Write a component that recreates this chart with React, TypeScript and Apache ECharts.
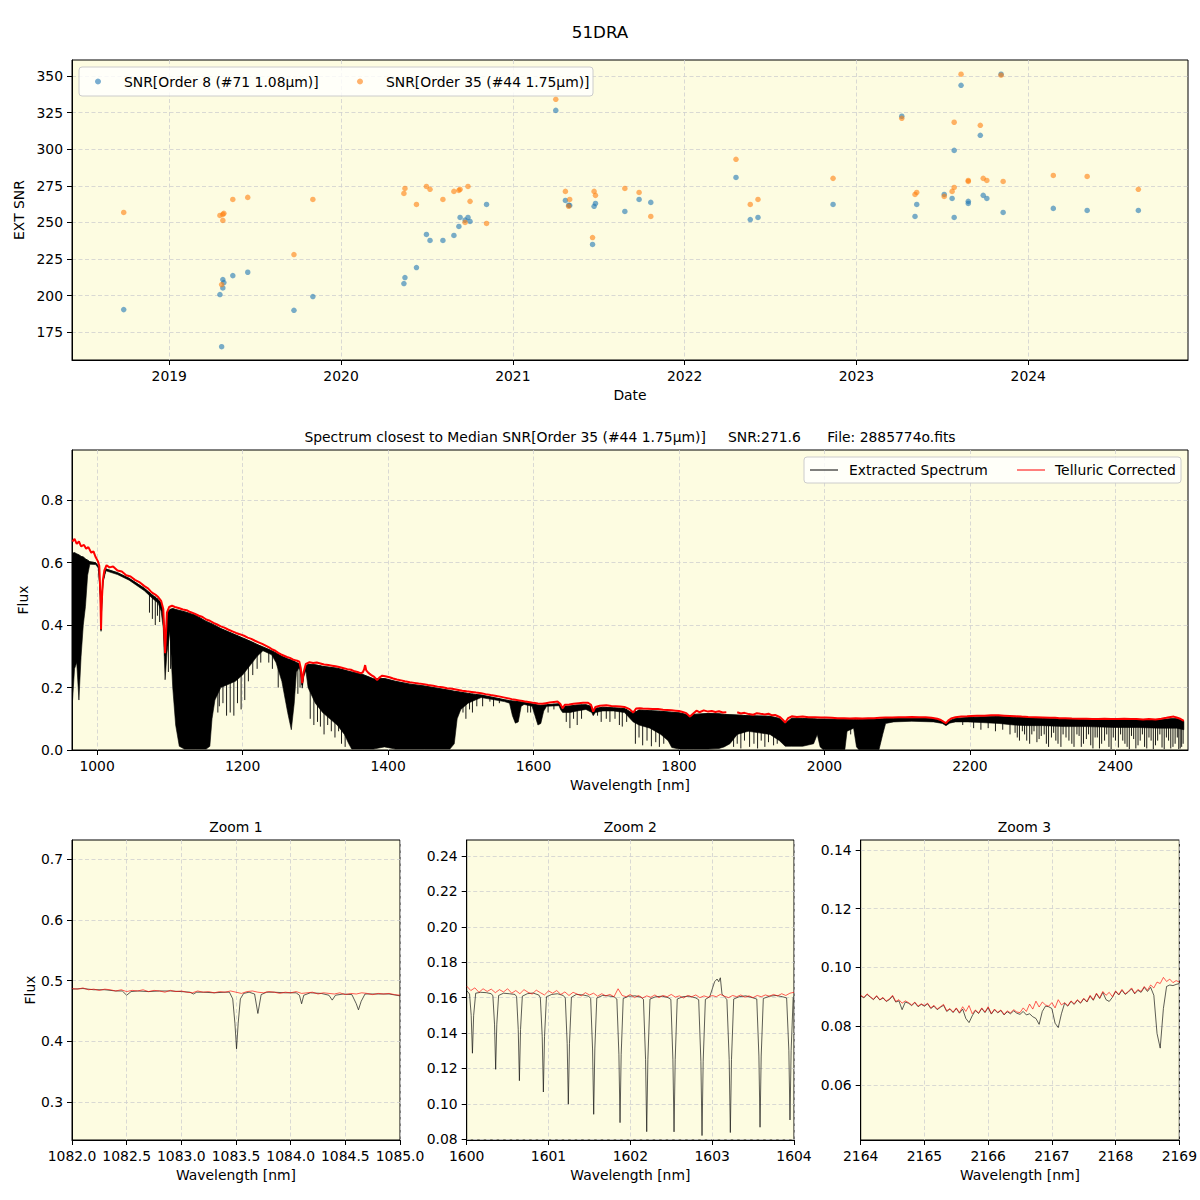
import React, { useEffect, useRef } from "react";
import * as echarts from "echarts";

const FONT = "DejaVu Sans";
const BG = "#fdfce1";

// ---------------- Top panel: SNR vs date (decimal years) ----------------
const obsDates = [
  2018.735, 2019.295, 2019.305, 2019.312, 2019.312, 2019.318, 2019.37, 2019.457, 2019.726, 2019.836,
  2020.366, 2020.372, 2020.439, 2020.497, 2020.518, 2020.593, 2020.657, 2020.686, 2020.693, 2020.722,
  2020.739, 2020.751, 2020.847, 2021.25, 2021.306, 2021.325, 2021.331, 2021.464, 2021.473, 2021.481,
  2021.652, 2021.735, 2021.803, 2022.299, 2022.382, 2022.427, 2022.864, 2023.264, 2023.341, 2023.351,
  2023.511, 2023.557, 2023.569, 2023.569, 2023.609, 2023.651, 2023.651, 2023.721, 2023.738, 2023.759,
  2023.842, 2023.854, 2024.146, 2024.343, 2024.641,
];
const snrOrder8 = [
  190.5, 200.8, 165.2, 205.3, 211.0, 209.0, 213.7, 216.0, 190.0, 199.4,
  208.3, 212.4, 219.2, 241.8, 237.7, 237.7, 241.1, 247.3, 253.4, 251.6,
  253.4, 250.7, 262.3, 326.5, 265.0, 261.8, 261.6, 235.0, 261.0, 263.0,
  257.5, 265.7, 263.7, 280.7, 252.0, 253.4, 262.3, 322.5, 254.1, 262.3,
  269.1, 266.4, 253.4, 299.2, 343.6, 264.4, 263.0, 309.5, 268.5, 266.4,
  351.2, 256.8, 259.6, 258.2, 258.2,
];
const snrOrder35 = [
  256.8, 254.8, 207.6, 251.4, 255.5, 256.2, 265.7, 267.1, 228.1, 265.7,
  269.8, 273.2, 262.3, 274.6, 272.6, 265.7, 271.2, 271.9, 272.6, 250.0,
  274.6, 264.4, 249.3, 334.1, 271.2, 261.0, 265.7, 239.7, 271.2, 268.5,
  273.2, 270.5, 254.1, 293.1, 262.3, 265.7, 280.1, 321.1, 269.1, 270.5,
  267.8, 271.2, 273.9, 318.4, 351.2, 278.7, 278.0, 316.3, 280.1, 278.7,
  350.5, 278.0, 282.1, 281.4, 272.6,
];
const yearTicks = [2019, 2020, 2021, 2022, 2023, 2024];
const snrTicks = [175, 200, 225, 250, 275, 300, 325, 350];

// ---------------- Middle panel: full spectrum ----------------
// [wavelength nm, flux] telluric corrected (red)
const telluricSpectrum: [number, number | null][] = [
  [966, 0.668], [969, 0.676], [972, 0.66], [975, 0.668], [978, 0.652], [982, 0.657], [985, 0.645], [988, 0.65],
  [992, 0.632], [995, 0.636], [998, 0.618], [1001, 0.605], [1003, 0.59], [1004.5, 0.5], [1005.4, 0.386], [1006.3, 0.47],
  [1008, 0.545], [1010, 0.575], [1013, 0.592], [1017, 0.585], [1022, 0.588], [1028, 0.575], [1034, 0.572], [1040, 0.56],
  [1046, 0.556], [1052, 0.545], [1058, 0.538], [1065, 0.525], [1070, 0.518], [1075, 0.505], [1080, 0.498], [1084, 0.49],
  [1088, 0.478], [1091, 0.452], [1093.5, 0.31], [1096, 0.44], [1099, 0.458], [1103, 0.462], [1107, 0.458], [1112, 0.455],
  [1118, 0.45], [1123, 0.448], [1128, 0.442], [1134, 0.437], [1140, 0.43], [1145, 0.426], [1150, 0.418], [1155, 0.414],
  [1160, 0.407], [1165, 0.402], [1170, 0.396], [1175, 0.392], [1180, 0.386], [1186, 0.38], [1191, 0.375], [1196, 0.371],
  [1202, 0.366], [1207, 0.36], [1212, 0.356], [1217, 0.35], [1222, 0.345], [1227, 0.34], [1233, 0.333], [1237, 0.328],
  [1241, 0.322], [1245, 0.318], [1249, 0.311], [1253, 0.306], [1257, 0.302], [1261, 0.298], [1265, 0.295], [1269, 0.29],
  [1272, 0.288], [1275, 0.286], [1278, 0.283], [1280, 0.262], [1282, 0.214], [1284, 0.25], [1287, 0.276], [1292, 0.281],
  [1297, 0.279], [1302, 0.28], [1307, 0.277], [1312, 0.274], [1318, 0.272], [1323, 0.27], [1328, 0.268], [1334, 0.265],
  [1339, 0.262], [1344, 0.259], [1349, 0.257], [1354, 0.252], [1358, 0.25], [1362, 0.246], [1365, 0.248], [1367, 0.258],
  [1368.5, 0.272], [1370, 0.255], [1373, 0.247], [1377, 0.24], [1381, 0.234], [1385, 0.224], [1388, 0.232], [1392, 0.238],
  [1396, 0.236], [1402, 0.233], [1407, 0.229], [1412, 0.226], [1418, 0.223], [1423, 0.22], [1430, 0.217], [1436, 0.215],
  [1442, 0.213], [1449, 0.211], [1455, 0.208], [1462, 0.206], [1468, 0.203], [1475, 0.201], [1481, 0.198], [1488, 0.196],
  [1495, 0.193], [1502, 0.19], [1508, 0.188], [1515, 0.186], [1521, 0.184], [1528, 0.182], [1534, 0.179], [1541, 0.176],
  [1547, 0.174], [1554, 0.171], [1562, 0.167], [1570, 0.163], [1575, 0.161], [1580, 0.159], [1585, 0.157], [1589, 0.155],
  [1595, 0.153], [1600, 0.151], [1606, 0.149], [1612, 0.148], [1617, 0.15], [1622, 0.152], [1628, 0.154], [1633, 0.155],
  [1637, 0.147], [1640, 0.134], [1643, 0.145], [1649, 0.146], [1655, 0.148], [1662, 0.15], [1668, 0.151], [1675, 0.151],
  [1679, 0.145], [1682, 0.123], [1685, 0.138], [1691, 0.142], [1700, 0.143], [1707, 0.141], [1713, 0.14], [1719, 0.139],
  [1725, 0.138], [1732, 0.131], [1737, 0.12], [1741, 0.133], [1746, 0.134], [1750, 0.133], [1757, 0.132], [1764, 0.131],
  [1771, 0.131], [1778, 0.129], [1784, 0.128], [1790, 0.127], [1795, 0.126], [1800, 0.125], [1805, 0.122], [1810, 0.118],
  [1815, 0.107], [1820, 0.118], [1824, 0.126], [1828, 0.121], [1834, 0.127], [1840, 0.123], [1845, 0.125], [1850, 0.122],
  [1855, 0.124], [1860, 0.12], [1865, 0.121], [1868, null], [1874, null], [1880, 0.121], [1885, 0.117], [1890, 0.119],
  [1896, 0.115], [1902, 0.113], [1907, 0.118], [1912, 0.116], [1918, 0.114], [1923, 0.116], [1928, 0.111], [1932, 0.112],
  [1936, 0.108], [1939, 0.105], [1943, 0.096], [1946, 0.088], [1950, 0.102], [1955, 0.108], [1962, 0.106], [1970, 0.107],
  [1978, 0.105], [1987, 0.105], [1995, 0.104], [2002, 0.104], [2010, 0.103], [2018, 0.102], [2027, 0.102], [2035, 0.101],
  [2043, 0.102], [2052, 0.101], [2060, 0.102], [2068, 0.102], [2076, 0.103], [2084, 0.104], [2093, 0.104], [2102, 0.105],
  [2111, 0.105], [2120, 0.106], [2130, 0.105], [2139, 0.105], [2147, 0.103], [2155, 0.1], [2160, 0.096], [2164, 0.09],
  [2167, 0.086], [2170, 0.094], [2174, 0.101], [2180, 0.105], [2188, 0.107], [2196, 0.108], [2202, 0.109], [2210, 0.11],
  [2220, 0.11], [2229, 0.111], [2239, 0.111], [2247, 0.11], [2255, 0.109], [2263, 0.108], [2271, 0.107], [2280, 0.106],
  [2290, 0.105], [2300, 0.104], [2310, 0.103], [2317, 0.103], [2323, 0.102], [2331, 0.102], [2340, 0.101], [2350, 0.1],
  [2360, 0.1], [2368, 0.099], [2376, 0.099], [2385, 0.1], [2394, 0.099], [2403, 0.099], [2412, 0.1], [2421, 0.099],
  [2429, 0.099], [2438, 0.098], [2446, 0.099], [2455, 0.098], [2463, 0.1], [2470, 0.103], [2476, 0.106], [2480, 0.107],
  [2484, 0.104], [2488, 0.101], [2491, 0.097], [2494, 0.093],
];

// [wavelength, upper flux, lower flux] of the dense extracted spectrum (black)
const extractedBand: [number, number, number][] = [
  [966, 0.63, 0.15], [969, 0.632, 0.26], [972, 0.628, 0.28], [975, 0.625, 0.16], [978, 0.62, 0.3], [981, 0.618, 0.4],
  [984, 0.612, 0.46], [987, 0.608, 0.56], [990, 0.603, 0.595], [998, 0.6, 0.594], [1002, 0.588, 0.582], [1004.5, 0.495, 0.49],
  [1005.4, 0.384, 0.38], [1006.3, 0.465, 0.46], [1008, 0.54, 0.535], [1012, 0.58, 0.574], [1028, 0.568, 0.562], [1044, 0.55, 0.544],
  [1065, 0.518, 0.51], [1075, 0.498, 0.488], [1084, 0.482, 0.47], [1088, 0.47, 0.445], [1091, 0.443, 0.39], [1093.5, 0.302, 0.225],
  [1096, 0.432, 0.31], [1100, 0.45, 0.38], [1104, 0.453, 0.2], [1108, 0.45, 0.08], [1113, 0.447, 0.012], [1120, 0.443, 0.003],
  [1135, 0.432, 0.003], [1150, 0.412, 0.003], [1155, 0.407, 0.012], [1158, 0.404, 0.1], [1162, 0.399, 0.16], [1170, 0.389, 0.2],
  [1180, 0.379, 0.21], [1190, 0.369, 0.22], [1200, 0.359, 0.24], [1210, 0.349, 0.27], [1220, 0.338, 0.3], [1228, 0.33, 0.318],
  [1240, 0.318, 0.305], [1246, 0.311, 0.28], [1254, 0.3, 0.22], [1262, 0.292, 0.12], [1267, 0.288, 0.065], [1271, 0.284, 0.15],
  [1274, 0.28, 0.25], [1278, 0.276, 0.265], [1280, 0.255, 0.245], [1282, 0.208, 0.198], [1284, 0.244, 0.234], [1287, 0.27, 0.255],
  [1290, 0.274, 0.2], [1300, 0.273, 0.15], [1310, 0.268, 0.12], [1320, 0.265, 0.1], [1330, 0.262, 0.08], [1340, 0.256, 0.05],
  [1346, 0.252, 0.02], [1350, 0.25, 0.003], [1365, 0.242, 0.003], [1380, 0.228, 0.003], [1395, 0.229, 0.01], [1410, 0.22, 0.003],
  [1430, 0.211, 0.003], [1450, 0.205, 0.003], [1470, 0.197, 0.003], [1485, 0.191, 0.003], [1491, 0.188, 0.02], [1495, 0.187, 0.1],
  [1500, 0.185, 0.13], [1510, 0.181, 0.15], [1520, 0.178, 0.16], [1528, 0.176, 0.168], [1560, 0.161, 0.155], [1567, 0.158, 0.15],
  [1571, 0.157, 0.11], [1575, 0.156, 0.086], [1579, 0.155, 0.09], [1583, 0.154, 0.14], [1587, 0.152, 0.146], [1598, 0.148, 0.14],
  [1602, 0.146, 0.11], [1606, 0.144, 0.08], [1610, 0.143, 0.085], [1614, 0.144, 0.125], [1618, 0.145, 0.14], [1635, 0.148, 0.142],
  [1637, 0.142, 0.13], [1640, 0.129, 0.12], [1643, 0.14, 0.12], [1650, 0.141, 0.12], [1660, 0.144, 0.125], [1672, 0.145, 0.13],
  [1680, 0.139, 0.12], [1682, 0.118, 0.11], [1685, 0.133, 0.12], [1695, 0.137, 0.125], [1710, 0.135, 0.125], [1725, 0.133, 0.12],
  [1737, 0.117, 0.09], [1745, 0.128, 0.08], [1760, 0.126, 0.07], [1775, 0.124, 0.05], [1785, 0.122, 0.03], [1790, 0.121, 0.008],
  [1800, 0.119, 0.003], [1812, 0.113, 0.003], [1815, 0.104, 0.003], [1820, 0.114, 0.003], [1840, 0.117, 0.003], [1855, 0.116, 0.005],
  [1862, 0.114, 0.01], [1870, 0.113, 0.02], [1880, 0.112, 0.05], [1895, 0.11, 0.06], [1910, 0.109, 0.055], [1925, 0.108, 0.05],
  [1938, 0.101, 0.03], [1946, 0.085, 0.012], [1955, 0.102, 0.012], [1970, 0.101, 0.012], [1985, 0.1, 0.02], [1990, 0.099, 0.05],
  [1994, 0.099, 0.01], [1998, 0.099, 0.002], [2028, 0.098, 0.002], [2031, 0.098, 0.06], [2040, 0.098, 0.07], [2044, 0.098, 0.01],
  [2047, 0.098, 0.002], [2075, 0.099, 0.002], [2080, 0.1, 0.05], [2084, 0.101, 0.085], [2095, 0.101, 0.09], [2120, 0.102, 0.092],
  [2150, 0.1, 0.09], [2162, 0.092, 0.085], [2167, 0.083, 0.078], [2172, 0.094, 0.086], [2180, 0.101, 0.09], [2197, 0.104, 0.09],
  [2215, 0.106, 0.088], [2240, 0.107, 0.085], [2260, 0.105, 0.08], [2280, 0.103, 0.078], [2300, 0.101, 0.078], [2330, 0.099, 0.075],
  [2360, 0.097, 0.075], [2400, 0.096, 0.072], [2430, 0.096, 0.072], [2460, 0.096, 0.07], [2476, 0.1, 0.07], [2484, 0.1, 0.07],
  [2494, 0.092, 0.065],
];

// [wavelength, top, bottom] of individual deep telluric lines in the extracted spectrum
const extractedLines: [number, number, number][] = [
  [1072, 0.505, 0.44], [1076, 0.497, 0.42], [1080, 0.492, 0.4], [1083, 0.485, 0.43], [1086, 0.478, 0.41], [1098, 0.452, 0.25],
  [1101, 0.45, 0.26], [1166, 0.393, 0.12], [1168, 0.391, 0.14], [1173, 0.386, 0.15], [1178, 0.381, 0.11], [1183, 0.376, 0.12],
  [1188, 0.371, 0.11], [1193, 0.366, 0.15], [1198, 0.361, 0.13], [1203, 0.356, 0.16], [1208, 0.351, 0.22], [1214, 0.346, 0.24],
  [1220, 0.338, 0.26], [1225, 0.333, 0.28], [1236, 0.322, 0.28], [1241, 0.316, 0.26], [1249, 0.306, 0.2], [1276, 0.278, 0.18],
  [1279, 0.27, 0.2], [1293, 0.274, 0.1], [1298, 0.273, 0.08], [1303, 0.272, 0.09], [1307, 0.27, 0.075], [1312, 0.268, 0.05],
  [1317, 0.266, 0.08], [1322, 0.264, 0.06], [1327, 0.262, 0.04], [1332, 0.26, 0.06], [1336, 0.258, 0.02], [1341, 0.255, 0.01],
  [1503, 0.185, 0.12], [1507, 0.184, 0.1], [1512, 0.182, 0.13], [1516, 0.18, 0.12], [1522, 0.178, 0.14], [1530, 0.175, 0.14],
  [1540, 0.17, 0.155], [1545, 0.168, 0.14], [1553, 0.165, 0.15], [1592, 0.15, 0.12], [1596, 0.149, 0.12], [1620, 0.146, 0.12],
  [1628, 0.148, 0.13], [1645, 0.141, 0.09], [1650, 0.141, 0.07], [1655, 0.142, 0.1], [1660, 0.144, 0.08], [1666, 0.145, 0.1],
  [1688, 0.136, 0.11], [1693, 0.137, 0.09], [1700, 0.137, 0.1], [1705, 0.136, 0.09], [1712, 0.135, 0.1], [1718, 0.134, 0.08],
  [1722, 0.134, 0.075], [1728, 0.132, 0.09], [1740, 0.127, 0.02], [1745, 0.128, 0.04], [1750, 0.127, 0.015], [1756, 0.127, 0.03],
  [1762, 0.126, 0.012], [1768, 0.125, 0.025], [1773, 0.124, 0.01], [1779, 0.123, 0.02], [1875, 0.112, 0.01], [1880, 0.112, 0.02],
  [1885, 0.111, 0.005], [1890, 0.111, 0.03], [1897, 0.11, 0.01], [1903, 0.11, 0.02], [1908, 0.109, 0.005], [1913, 0.109, 0.03],
  [1918, 0.108, 0.01], [1923, 0.108, 0.025], [1930, 0.105, 0.015], [1935, 0.103, 0.02], [2036, 0.098, 0.05], [2190, 0.102, 0.08],
  [2205, 0.105, 0.07], [2215, 0.106, 0.065], [2225, 0.106, 0.07], [2235, 0.107, 0.06], [2245, 0.106, 0.065], [2255, 0.105, 0.05],
  [2262, 0.105, 0.055], [2265, 0.104, 0.04], [2268, 0.104, 0.03], [2272, 0.104, 0.06], [2275, 0.104, 0.05], [2278, 0.103, 0.03],
  [2282, 0.103, 0.02], [2285, 0.102, 0.05], [2288, 0.102, 0.06], [2292, 0.102, 0.025], [2295, 0.101, 0.035], [2298, 0.101, 0.045],
  [2302, 0.101, 0.05], [2305, 0.1, 0.02], [2308, 0.1, 0.01], [2312, 0.1, 0.04], [2315, 0.1, 0.055], [2318, 0.1, 0.03],
  [2321, 0.099, 0.02], [2325, 0.099, 0.01], [2328, 0.099, 0.05], [2332, 0.099, 0.04], [2336, 0.098, 0.03], [2340, 0.098, 0.02],
  [2343, 0.098, 0.01], [2347, 0.098, 0.05], [2350, 0.097, 0.045], [2353, 0.097, 0.01], [2356, 0.097, 0.02], [2360, 0.097, 0.035],
  [2363, 0.097, 0.05], [2366, 0.097, 0.015], [2369, 0.097, 0.005], [2372, 0.097, 0.04], [2375, 0.096, 0.04], [2378, 0.096, 0.005],
  [2381, 0.096, 0.02], [2385, 0.096, 0.03], [2388, 0.096, 0.05], [2391, 0.096, 0.01], [2394, 0.096, 0.003], [2397, 0.096, 0.04],
  [2400, 0.096, 0.03], [2404, 0.096, 0.008], [2407, 0.096, 0.05], [2410, 0.096, 0.03], [2413, 0.096, 0.02], [2416, 0.096, 0.01],
  [2419, 0.096, 0.003], [2422, 0.096, 0.045], [2425, 0.096, 0.035], [2428, 0.096, 0.005], [2431, 0.096, 0.015], [2434, 0.096, 0.03],
  [2437, 0.096, 0.05], [2440, 0.096, 0.01], [2443, 0.096, 0.005], [2446, 0.096, 0.04], [2449, 0.096, 0.03], [2452, 0.096, 0.003],
  [2455, 0.096, 0.015], [2458, 0.096, 0.03], [2461, 0.097, 0.05], [2464, 0.097, 0.008], [2467, 0.097, 0.003], [2470, 0.098, 0.04],
  [2473, 0.099, 0.03], [2476, 0.1, 0.005], [2479, 0.1, 0.01], [2482, 0.1, 0.02], [2485, 0.1, 0.04], [2487, 0.1, 0.003],
  [2489, 0.099, 0.005], [2491, 0.098, 0.01], [2493, 0.095, 0.02],
];
const waveTicks = [1000, 1200, 1400, 1600, 1800, 2000, 2200, 2400];
const fluxTicks = [0, 0.2, 0.4, 0.6, 0.8];

// ---------------- Zoom 1 (1082-1085 nm) ----------------
const zoom1Telluric: [number, number][] = [
  [1082.0, 0.487], [1082.05, 0.486], [1082.1, 0.488], [1082.15, 0.485], [1082.2, 0.486], [1082.25, 0.484], [1082.3, 0.486],
  [1082.35, 0.485], [1082.4, 0.483], [1082.45, 0.485], [1082.5, 0.482], [1082.55, 0.484], [1082.6, 0.483], [1082.65, 0.485],
  [1082.7, 0.482], [1082.75, 0.484], [1082.8, 0.483], [1082.85, 0.481], [1082.9, 0.484], [1082.95, 0.482], [1083.0, 0.483],
  [1083.05, 0.481], [1083.1, 0.48], [1083.15, 0.483], [1083.2, 0.481], [1083.25, 0.482], [1083.3, 0.48], [1083.35, 0.482],
  [1083.4, 0.481], [1083.45, 0.483], [1083.5, 0.481], [1083.55, 0.479], [1083.6, 0.482], [1083.65, 0.483], [1083.7, 0.481],
  [1083.75, 0.48], [1083.8, 0.482], [1083.85, 0.481], [1083.9, 0.479], [1083.95, 0.481], [1084.0, 0.48], [1084.05, 0.482],
  [1084.1, 0.479], [1084.15, 0.48], [1084.2, 0.481], [1084.25, 0.478], [1084.3, 0.48], [1084.35, 0.479], [1084.4, 0.478],
  [1084.45, 0.48], [1084.5, 0.477], [1084.55, 0.479], [1084.6, 0.478], [1084.65, 0.48], [1084.7, 0.479], [1084.75, 0.477],
  [1084.8, 0.479], [1084.85, 0.478], [1084.9, 0.479], [1084.95, 0.477], [1085.0, 0.476],
];
const zoom1Extracted: [number, number][] = [
  [1082.0, 0.486], [1082.1, 0.487], [1082.2, 0.485], [1082.3, 0.485], [1082.4, 0.483], [1082.46, 0.483], [1082.5, 0.476],
  [1082.54, 0.482], [1082.6, 0.483], [1082.7, 0.482], [1082.8, 0.483], [1082.9, 0.483], [1083.0, 0.482], [1083.08, 0.481],
  [1083.11, 0.478], [1083.14, 0.481], [1083.2, 0.481], [1083.3, 0.48], [1083.4, 0.481], [1083.44, 0.481], [1083.47, 0.47],
  [1083.49, 0.43], [1083.505, 0.388], [1083.52, 0.43], [1083.54, 0.47], [1083.57, 0.479], [1083.62, 0.481], [1083.67, 0.478],
  [1083.7, 0.446], [1083.73, 0.477], [1083.78, 0.481], [1083.85, 0.481], [1083.95, 0.48], [1084.05, 0.48], [1084.08, 0.476],
  [1084.1, 0.462], [1084.12, 0.476], [1084.18, 0.48], [1084.28, 0.479], [1084.35, 0.476], [1084.38, 0.468], [1084.41, 0.476],
  [1084.48, 0.478], [1084.56, 0.477], [1084.6, 0.462], [1084.62, 0.452], [1084.645, 0.466], [1084.68, 0.478], [1084.8, 0.478],
  [1084.9, 0.478], [1085.0, 0.475],
];
const zoom1XTicks = [1082.0, 1082.5, 1083.0, 1083.5, 1084.0, 1084.5, 1085.0];
const zoom1YTicks = [0.3, 0.4, 0.5, 0.6, 0.7];

// ---------------- Zoom 2 (1600-1604 nm) ----------------
const zoom2Telluric: [number, number][] = [
  [1600.0, 0.1665], [1600.05, 0.164], [1600.1, 0.1655], [1600.15, 0.163], [1600.2, 0.165], [1600.25, 0.1635], [1600.3, 0.1648],
  [1600.35, 0.1628], [1600.4, 0.1645], [1600.45, 0.1632], [1600.5, 0.165], [1600.55, 0.1625], [1600.6, 0.164], [1600.65, 0.1622],
  [1600.7, 0.1645], [1600.75, 0.163], [1600.8, 0.162], [1600.85, 0.1642], [1600.9, 0.1628], [1600.95, 0.1615], [1601.0, 0.1638],
  [1601.05, 0.1625], [1601.1, 0.164], [1601.15, 0.1618], [1601.2, 0.1632], [1601.25, 0.1612], [1601.3, 0.163], [1601.35, 0.162],
  [1601.4, 0.161], [1601.45, 0.1628], [1601.5, 0.1615], [1601.55, 0.1625], [1601.6, 0.1608], [1601.65, 0.1622], [1601.7, 0.161],
  [1601.75, 0.1618], [1601.8, 0.1605], [1601.85, 0.165], [1601.9, 0.1612], [1601.95, 0.1605], [1602.0, 0.1618], [1602.05, 0.16],
  [1602.1, 0.1612], [1602.15, 0.1598], [1602.2, 0.161], [1602.25, 0.1602], [1602.3, 0.1615], [1602.35, 0.16], [1602.4, 0.1612],
  [1602.45, 0.1605], [1602.5, 0.1618], [1602.55, 0.1603], [1602.6, 0.161], [1602.65, 0.1598], [1602.7, 0.1612], [1602.75, 0.1605],
  [1602.8, 0.1615], [1602.85, 0.16], [1602.9, 0.161], [1602.95, 0.1602], [1603.0, 0.1612], [1603.05, 0.1605], [1603.1, 0.1618],
  [1603.15, 0.1608], [1603.2, 0.16], [1603.25, 0.1612], [1603.3, 0.1605], [1603.35, 0.1615], [1603.4, 0.1602], [1603.45, 0.161],
  [1603.5, 0.16], [1603.55, 0.1612], [1603.6, 0.1605], [1603.65, 0.1615], [1603.7, 0.1608], [1603.75, 0.1618], [1603.8, 0.161],
  [1603.85, 0.1622], [1603.9, 0.1612], [1603.95, 0.1625], [1604.0, 0.163],
];
const zoom2Extracted: [number, number][] = [
  [1600.0, 0.164], [1600.035, 0.162], [1600.055, 0.15], [1600.07, 0.1286], [1600.085, 0.15], [1600.11, 0.1625],
  [1600.17, 0.163], [1600.24, 0.1628], [1600.3, 0.1622],
  [1600.32, 0.161], [1600.34, 0.145], [1600.354, 0.1195], [1600.368, 0.145], [1600.39, 0.1612],
  [1600.45, 0.1625], [1600.52, 0.1622], [1600.59, 0.1618],
  [1600.61, 0.1605], [1600.63, 0.142], [1600.644, 0.1131], [1600.658, 0.142], [1600.68, 0.1608],
  [1600.74, 0.1622], [1600.81, 0.1626], [1600.88, 0.1615],
  [1600.9, 0.16], [1600.923, 0.138], [1600.937, 0.1067], [1600.951, 0.138], [1600.975, 0.1605],
  [1601.04, 0.1618], [1601.11, 0.1622], [1601.18, 0.1612],
  [1601.205, 0.1598], [1601.228, 0.134], [1601.242, 0.0998], [1601.256, 0.134], [1601.28, 0.1602],
  [1601.34, 0.1618], [1601.42, 0.1615], [1601.49, 0.1608],
  [1601.515, 0.1595], [1601.538, 0.131], [1601.552, 0.0941], [1601.566, 0.131], [1601.59, 0.1598],
  [1601.66, 0.1612], [1601.73, 0.161], [1601.8, 0.1605],
  [1601.835, 0.1592], [1601.86, 0.128], [1601.874, 0.0894], [1601.888, 0.128], [1601.913, 0.1595],
  [1601.98, 0.1608], [1602.06, 0.161], [1602.13, 0.1602],
  [1602.16, 0.159], [1602.186, 0.125], [1602.2, 0.0843], [1602.214, 0.125], [1602.24, 0.1592],
  [1602.31, 0.1605], [1602.39, 0.1608], [1602.46, 0.16],
  [1602.495, 0.159], [1602.52, 0.125], [1602.534, 0.0842], [1602.548, 0.125], [1602.573, 0.1592],
  [1602.64, 0.1605], [1602.72, 0.1608], [1602.8, 0.1598],
  [1602.835, 0.1588], [1602.862, 0.124], [1602.876, 0.0821], [1602.89, 0.124], [1602.917, 0.159],
  [1602.97, 0.1605], [1603.03, 0.169], [1603.06, 0.1705], [1603.08, 0.169], [1603.1, 0.1712], [1603.12, 0.162], [1603.16, 0.16],
  [1603.18, 0.1588], [1603.208, 0.125], [1603.222, 0.0838], [1603.236, 0.125], [1603.263, 0.1592],
  [1603.33, 0.1605], [1603.41, 0.161], [1603.49, 0.16],
  [1603.545, 0.1592], [1603.571, 0.127], [1603.585, 0.0868], [1603.599, 0.127], [1603.625, 0.1595],
  [1603.7, 0.1608], [1603.78, 0.1612], [1603.86, 0.1605],
  [1603.91, 0.1598], [1603.937, 0.13], [1603.951, 0.0909], [1603.965, 0.13], [1603.99, 0.1602], [1604.0, 0.1605],
];
const zoom2XTicks = [1600, 1601, 1602, 1603, 1604];
const zoom2YTicks = [0.08, 0.1, 0.12, 0.14, 0.16, 0.18, 0.2, 0.22, 0.24];

// ---------------- Zoom 3 (2164-2169 nm) ----------------
const zoom3Telluric: [number, number][] = [
  [2164.0, 0.0905], [2164.05, 0.0898], [2164.1, 0.091], [2164.15, 0.09], [2164.2, 0.0892], [2164.25, 0.0904], [2164.3, 0.089],
  [2164.35, 0.0898], [2164.4, 0.0885], [2164.45, 0.0893], [2164.5, 0.0905], [2164.55, 0.0884], [2164.6, 0.089], [2164.65, 0.0878],
  [2164.7, 0.0886], [2164.75, 0.088], [2164.8, 0.0872], [2164.85, 0.0882], [2164.9, 0.0868], [2164.95, 0.0876], [2165.0, 0.087],
  [2165.05, 0.0878], [2165.1, 0.0862], [2165.15, 0.0871], [2165.2, 0.0858], [2165.25, 0.0866], [2165.3, 0.0874], [2165.35, 0.0852],
  [2165.4, 0.086], [2165.45, 0.0848], [2165.5, 0.0862], [2165.55, 0.0846], [2165.6, 0.0866], [2165.65, 0.085], [2165.7, 0.087],
  [2165.75, 0.0842], [2165.8, 0.0855], [2165.85, 0.0845], [2165.9, 0.0862], [2165.95, 0.0848], [2166.0, 0.0866], [2166.05, 0.0843],
  [2166.1, 0.0858], [2166.15, 0.0847], [2166.2, 0.0855], [2166.25, 0.084], [2166.3, 0.0852], [2166.35, 0.0845], [2166.4, 0.0856],
  [2166.45, 0.0848], [2166.5, 0.0846], [2166.55, 0.0862], [2166.6, 0.085], [2166.65, 0.0875], [2166.7, 0.0858], [2166.75, 0.0885],
  [2166.8, 0.0865], [2166.85, 0.0882], [2166.9, 0.0872], [2166.95, 0.0868], [2167.0, 0.088], [2167.05, 0.0862], [2167.1, 0.089],
  [2167.15, 0.0872], [2167.2, 0.088], [2167.25, 0.087], [2167.3, 0.0886], [2167.35, 0.0876], [2167.4, 0.089], [2167.45, 0.088],
  [2167.5, 0.0895], [2167.55, 0.0884], [2167.6, 0.0905], [2167.65, 0.089], [2167.7, 0.0912], [2167.75, 0.0896], [2167.8, 0.0918],
  [2167.85, 0.0905], [2167.9, 0.0915], [2167.95, 0.09], [2168.0, 0.092], [2168.05, 0.0908], [2168.1, 0.0925], [2168.15, 0.091],
  [2168.2, 0.0918], [2168.25, 0.093], [2168.3, 0.0912], [2168.35, 0.0925], [2168.4, 0.0918], [2168.45, 0.0935], [2168.5, 0.0922],
  [2168.55, 0.094], [2168.6, 0.093], [2168.65, 0.095], [2168.7, 0.0945], [2168.75, 0.0966], [2168.8, 0.0952], [2168.85, 0.096],
  [2168.9, 0.0948], [2168.95, 0.0955], [2169.0, 0.095],
];
const zoom3Extracted: [number, number][] = [
  [2164.0, 0.0903], [2164.05, 0.0896], [2164.1, 0.0908], [2164.15, 0.0899], [2164.2, 0.089], [2164.25, 0.0902], [2164.3, 0.0889],
  [2164.35, 0.0896], [2164.4, 0.0884], [2164.45, 0.089], [2164.5, 0.0902], [2164.55, 0.0882], [2164.6, 0.0886], [2164.65, 0.0856],
  [2164.7, 0.0882], [2164.75, 0.0878], [2164.8, 0.087], [2164.85, 0.088], [2164.9, 0.0866], [2164.95, 0.0874], [2165.0, 0.0868],
  [2165.05, 0.0876], [2165.1, 0.086], [2165.15, 0.0868], [2165.2, 0.0856], [2165.25, 0.0864], [2165.3, 0.0871], [2165.35, 0.085],
  [2165.4, 0.0858], [2165.45, 0.0846], [2165.5, 0.086], [2165.55, 0.0844], [2165.6, 0.0858], [2165.65, 0.0826], [2165.7, 0.0812],
  [2165.75, 0.0835], [2165.8, 0.0853], [2165.85, 0.0843], [2165.9, 0.086], [2165.95, 0.0846], [2166.0, 0.0863], [2166.05, 0.0841],
  [2166.1, 0.0856], [2166.15, 0.0845], [2166.2, 0.0853], [2166.25, 0.0838], [2166.3, 0.0849], [2166.35, 0.0842], [2166.4, 0.0852],
  [2166.45, 0.0844], [2166.5, 0.084], [2166.55, 0.085], [2166.6, 0.0838], [2166.65, 0.0842], [2166.7, 0.0832], [2166.75, 0.0826],
  [2166.8, 0.0806], [2166.85, 0.085], [2166.9, 0.0868], [2166.95, 0.0866], [2167.0, 0.086], [2167.05, 0.081], [2167.1, 0.0795],
  [2167.15, 0.0842], [2167.2, 0.0878], [2167.25, 0.0868], [2167.3, 0.0884], [2167.35, 0.0874], [2167.4, 0.0888], [2167.45, 0.0878],
  [2167.5, 0.0893], [2167.55, 0.0882], [2167.6, 0.0902], [2167.65, 0.0888], [2167.7, 0.091], [2167.75, 0.0894], [2167.8, 0.0915],
  [2167.85, 0.089], [2167.9, 0.0884], [2167.95, 0.0898], [2168.0, 0.0918], [2168.05, 0.0906], [2168.1, 0.0922], [2168.15, 0.0908],
  [2168.2, 0.0916], [2168.25, 0.0927], [2168.3, 0.091], [2168.35, 0.0922], [2168.4, 0.0915], [2168.45, 0.0932], [2168.5, 0.0918],
  [2168.55, 0.0932], [2168.6, 0.0905], [2168.65, 0.0775], [2168.7, 0.0725], [2168.75, 0.086], [2168.8, 0.0935], [2168.85, 0.094],
  [2168.9, 0.0938], [2168.95, 0.0942], [2169.0, 0.0945],
];
const zoom3XTicks = [2164, 2165, 2166, 2167, 2168, 2169];
const zoom3YTicks = [0.06, 0.08, 0.1, 0.12, 0.14];

const SNR_8 = "SNR[Order 8 (#71 1.08\u03bcm)]";
const SNR_35 = "SNR[Order 35 (#44 1.75\u03bcm)]";
const MID_TITLE =
  "Spectrum closest to Median SNR[Order 35 (#44 1.75\u03bcm)]     SNR:271.6      File: 2885774o.fits";

const textBase = { fontFamily: FONT, color: "#000", fontSize: 13.9 };

function makeAxis(
  gridIndex: number,
  min: number,
  max: number,
  ticks: number[],
  fmt: (v: number) => string,
  extra: Record<string, unknown> = {}
) {
  return {
    type: "value",
    gridIndex,
    min,
    max,
    axisLine: { show: true, onZero: false, lineStyle: { color: "#000", width: 1 } },
    axisTick: { show: true, customValues: ticks, length: 5, lineStyle: { color: "#000", width: 1 } },
    axisLabel: { customValues: ticks, formatter: fmt, margin: 9, ...textBase },
    splitLine: { show: true, lineStyle: { color: "#cfcfcf", type: [4, 2.5], width: 0.8 } },
    nameTextStyle: { ...textBase },
    ...extra,
  };
}

const gridBase = { show: true, backgroundColor: BG, borderColor: "#000", borderWidth: 1, containLabel: false };

// legend drawn as graphic: box, marker and label per entry
function legendGraphics() {
  const box = (x: number, y: number, w: number, h: number) => ({
    type: "rect", z: 50, silent: true,
    shape: { x, y, width: w, height: h, r: 3 },
    style: { fill: "rgba(255,255,255,0.8)", stroke: "#cccccc", lineWidth: 1 },
  });
  const label = (x: number, y: number, text: string) => ({
    type: "text", z: 51, silent: true, x, y,
    style: { text, fontSize: 13.9, fontFamily: FONT, fill: "#000", align: "left", verticalAlign: "middle" },
  });
  const dot = (cx: number, cy: number, color: string) => ({
    type: "circle", z: 51, silent: true,
    shape: { cx, cy, r: 3 },
    style: { fill: color, opacity: 0.6 },
  });
  const seg = (x1: number, x2: number, y: number, color: string) => ({
    type: "line", z: 51, silent: true,
    shape: { x1, y1: y, x2, y2: y },
    style: { stroke: color, lineWidth: 1 },
  });
  return [
    box(79, 67, 514, 29),
    dot(98, 81.5, "#1f77b4"),
    label(124, 81.5, SNR_8),
    dot(360, 81.5, "#ff7f0e"),
    label(386, 81.5, SNR_35),
    box(804, 457, 377, 26),
    seg(810, 838, 470, "#000"),
    label(849, 470, "Extracted Spectrum"),
    seg(1017, 1045, 470, "#ff0000"),
    label(1055, 470, "Telluric Corrected"),
  ];
}

function buildOption() {
  const f0 = (v: number) => String(Math.round(v));
  const f1 = (v: number) => v.toFixed(1);
  const f2 = (v: number) => v.toFixed(2);
  const xName = { name: "Wavelength [nm]", nameLocation: "middle", nameGap: 28 };
  const titleStyle = { ...textBase, fontWeight: "normal" };

  return {
    animation: false,
    textStyle: { fontFamily: FONT },
    title: [
      { text: "51DRA", left: 600, top: 23, textAlign: "center", textVerticalAlign: "top", padding: 0,
        textStyle: { ...titleStyle, fontSize: 16.7 } },
      { text: MID_TITLE, left: 630, top: 430, textAlign: "center", textVerticalAlign: "top", padding: 0, textStyle: titleStyle },
      { text: "Zoom 1", left: 236, top: 820, textAlign: "center", textVerticalAlign: "top", padding: 0, textStyle: titleStyle },
      { text: "Zoom 2", left: 630.3, top: 820, textAlign: "center", textVerticalAlign: "top", padding: 0, textStyle: titleStyle },
      { text: "Zoom 3", left: 1024.5, top: 820, textAlign: "center", textVerticalAlign: "top", padding: 0, textStyle: titleStyle },
    ],
    graphic: { elements: legendGraphics() },
    grid: [
      { ...gridBase, left: 72, top: 60, width: 1116, height: 300 },
      { ...gridBase, left: 72, top: 450, width: 1116, height: 300 },
      { ...gridBase, left: 72, top: 840, width: 328, height: 300 },
      { ...gridBase, left: 466.7, top: 840, width: 327.3, height: 300 },
      { ...gridBase, left: 860.7, top: 840, width: 327.6, height: 300 },
    ],
    xAxis: [
      makeAxis(0, 2018.434, 2024.93, yearTicks, f0, { name: "Date", nameLocation: "middle", nameGap: 28 }),
      makeAxis(1, 965.5, 2499.7, waveTicks, f0, xName),
      makeAxis(2, 1082, 1085, zoom1XTicks, f1, xName),
      makeAxis(3, 1600, 1604, zoom2XTicks, f0, xName),
      makeAxis(4, 2164, 2169, zoom3XTicks, f0, xName),
    ],
    yAxis: [
      makeAxis(0, 156.1, 360.9, snrTicks, f0, { name: "EXT SNR", nameLocation: "middle", nameGap: 40 }),
      makeAxis(1, 0, 0.961, fluxTicks, f1, { name: "Flux", nameLocation: "middle", nameGap: 34 }),
      makeAxis(2, 0.238, 0.7312, zoom1YTicks, f1, { name: "Flux", nameLocation: "middle", nameGap: 34 }),
      makeAxis(3, 0.0796, 0.249, zoom2YTicks, f2),
      makeAxis(4, 0.0412, 0.1434, zoom3YTicks, f2),
    ],
    series: [
      {
        type: "scatter", name: SNR_8, xAxisIndex: 0, yAxisIndex: 0, symbolSize: 5.5,
        itemStyle: { color: "#1f77b4", opacity: 0.6 },
        data: obsDates.map((d, i) => [d, snrOrder8[i]]),
      },
      {
        type: "scatter", name: SNR_35, xAxisIndex: 0, yAxisIndex: 0, symbolSize: 5.5,
        itemStyle: { color: "#ff7f0e", opacity: 0.6 },
        data: obsDates.map((d, i) => [d, snrOrder35[i]]),
      },
      {
        type: "custom", name: "extracted-band", xAxisIndex: 1, yAxisIndex: 1, clip: true, silent: true, z: 2,
        data: extractedBand,
        encode: { x: 0, y: [1, 2] },
        renderItem: (params: any, api: any) => {
          if (params.dataIndex !== 0) return null;
          const pts: number[][] = [];
          for (let i = 0; i < extractedBand.length; i++) pts.push(api.coord([extractedBand[i][0], extractedBand[i][1]]));
          for (let i = extractedBand.length - 1; i >= 0; i--) pts.push(api.coord([extractedBand[i][0], extractedBand[i][2]]));
          return { type: "polygon", shape: { points: pts }, style: { fill: "#000", stroke: "#000", lineWidth: 0.6 } };
        },
      },
      {
        type: "custom", name: "extracted-lines", xAxisIndex: 1, yAxisIndex: 1, clip: true, silent: true, z: 2,
        data: extractedLines,
        encode: { x: 0, y: [1, 2] },
        renderItem: (params: any, api: any) => {
          const p1 = api.coord([api.value(0), api.value(1)]);
          const p2 = api.coord([api.value(0), api.value(2)]);
          return { type: "line", shape: { x1: p1[0], y1: p1[1], x2: p2[0], y2: p2[1] }, style: { stroke: "#000", lineWidth: 0.9 } };
        },
      },
      {
        type: "line", name: "Extracted Spectrum", xAxisIndex: 1, yAxisIndex: 1, symbol: "none", z: 3,
        lineStyle: { color: "#000", width: 0.8 }, itemStyle: { color: "#000" },
        data: extractedBand.map((p) => [p[0], p[1]]),
      },
      {
        type: "line", name: "Telluric Corrected", xAxisIndex: 1, yAxisIndex: 1, symbol: "none", z: 4,
        lineStyle: { color: "#ff0000", width: 2 }, itemStyle: { color: "#ff0000" },
        data: telluricSpectrum,
      },
      {
        type: "line", name: "zoom1-extracted", xAxisIndex: 2, yAxisIndex: 2, symbol: "none", z: 3,
        lineStyle: { color: "#111", width: 0.8, opacity: 0.85 }, data: zoom1Extracted,
      },
      {
        type: "line", name: "zoom1-telluric", xAxisIndex: 2, yAxisIndex: 2, symbol: "none", z: 4,
        lineStyle: { color: "#ff0000", width: 0.8, opacity: 0.8 }, data: zoom1Telluric,
      },
      {
        type: "line", name: "zoom2-extracted", xAxisIndex: 3, yAxisIndex: 3, symbol: "none", z: 3,
        lineStyle: { color: "#111", width: 0.8, opacity: 0.85 }, data: zoom2Extracted,
      },
      {
        type: "line", name: "zoom2-telluric", xAxisIndex: 3, yAxisIndex: 3, symbol: "none", z: 4,
        lineStyle: { color: "#ff0000", width: 0.8, opacity: 0.8 }, data: zoom2Telluric,
      },
      {
        type: "line", name: "zoom3-extracted", xAxisIndex: 4, yAxisIndex: 4, symbol: "none", z: 3,
        lineStyle: { color: "#111", width: 0.8, opacity: 0.85 }, data: zoom3Extracted,
      },
      {
        type: "line", name: "zoom3-telluric", xAxisIndex: 4, yAxisIndex: 4, symbol: "none", z: 4,
        lineStyle: { color: "#ff0000", width: 0.8, opacity: 0.8 }, data: zoom3Telluric,
      },
    ],
  };
}

export default function App() {
  const ref = useRef<HTMLDivElement>(null);
  useEffect(() => {
    if (!ref.current) return;
    const chart = echarts.init(ref.current, undefined, { renderer: "svg" });
    chart.setOption(buildOption() as any);
    return () => chart.dispose();
  }, []);
  return (
    <div
      ref={ref}
      style={{ position: "absolute", left: 0, top: 0, width: 1200, height: 1200, background: "#fff" }}
    />
  );
}
